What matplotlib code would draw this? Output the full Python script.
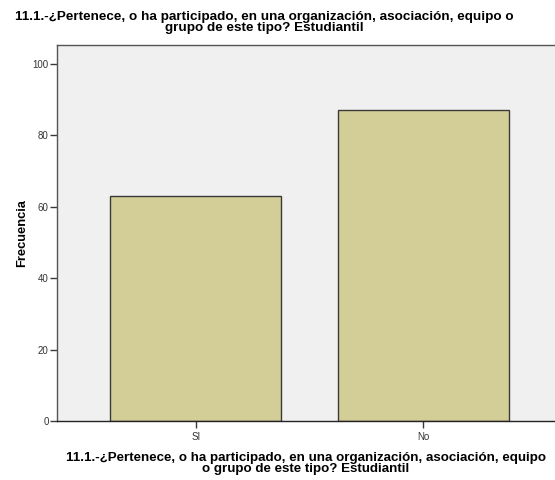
import numpy as np
import matplotlib.pyplot as plt

plt.rcParams['font.family'] = ['Liberation Sans', 'DejaVu Sans']

# datos: frecuencia por respuesta
categorias = ['SI', 'No']
frecuencias = [63, 87]
titulo = '11.1.-¿Pertenece, o ha participado, en una organización, asociación, equipo o\ngrupo de este tipo? Estudiantil'
etiqueta_x = '11.1.-¿Pertenece, o ha participado, en una organización, asociación, equipo\no grupo de este tipo? Estudiantil'

fig = plt.figure(figsize=(5.55, 4.8), dpi=100)
ax = fig.add_axes([57/555, 1-421/480, 1-57/555, (421-45)/480])
ax.set_facecolor('#f0f0f0')

x = np.arange(len(categorias))
ax.bar(x, frecuencias, width=0.753, color='#d3ce97', edgecolor='#3a3a3a', linewidth=1.0)

ax.set_xlim(-0.612, 1.581)
ax.set_ylim(0, 105.3)
ax.set_yticks([0, 20, 40, 60, 80, 100])
ax.set_xticks(x)
ax.set_xticklabels(categorias)
ax.tick_params(axis='both', labelsize=7, labelcolor='#333333', color='#3a3a3a', length=5, width=1.0)
ax.tick_params(axis='y', pad=1)
ax.tick_params(axis='x', pad=3)

for s in ['left', 'top', 'bottom']:
    ax.spines[s].set_color('#555555')
    ax.spines[s].set_linewidth(1.0)
ax.spines['right'].set_visible(False)
ax.spines['bottom'].set_color('#222222')

ax.set_ylabel('Frecuencia', fontsize=9.3, fontweight='bold', labelpad=3)
ax.set_xlabel(etiqueta_x, fontsize=9.6, fontweight='bold', labelpad=7, linespacing=0.95)
fig.text(0.477, 0.978, titulo, ha='center', va='top', fontsize=9.7, fontweight='bold', linespacing=0.95)

plt.savefig('out.png', dpi=100)
